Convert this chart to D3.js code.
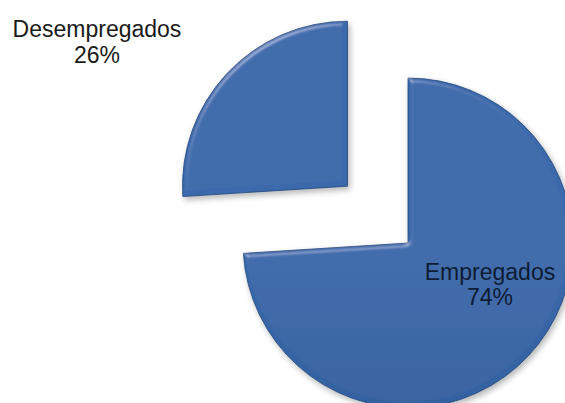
<!DOCTYPE html>
<html>
<head>
<meta charset="utf-8">
<script src="https://cdn.jsdelivr.net/npm/d3@7"></script>
<style>
  html, body { margin: 0; padding: 0; background: #fff; }
  svg { display: block; }
  text { font-family: "Liberation Sans", Arial, sans-serif; }
</style>
</head>
<body>
<svg id="chart" width="565" height="403"></svg>
<script>
// Employment split
const categories = ["Empregados", "Desempregados"];
const values = [74, 26];
const percentLabels = ["74%", "26%"];

const width = 565, height = 403;
const cx = 408, cy = 243, radius = 165;
const explodeBy = [0, 83];

const svg = d3.select("#chart");
const defs = svg.append("defs");

// vertical shading of the slice faces
const grad = defs.append("linearGradient")
  .attr("id", "faceGrad")
  .attr("gradientUnits", "userSpaceOnUse")
  .attr("x1", 0).attr("y1", 15).attr("x2", 0).attr("y2", 410);
grad.append("stop").attr("offset", 0).attr("stop-color", "#3a69ab");
grad.append("stop").attr("offset", 1).attr("stop-color", "#27528d");

// soft bevel + drop shadow
const f = defs.append("filter").attr("id", "bevel")
  .attr("x", "-10%").attr("y", "-10%").attr("width", "120%").attr("height", "120%");
f.append("feGaussianBlur").attr("in", "SourceAlpha").attr("stdDeviation", 2.5).attr("result", "blur");
const spec = f.append("feSpecularLighting").attr("in", "blur")
  .attr("surfaceScale", 4).attr("specularConstant", 0.7).attr("specularExponent", 22)
  .attr("lighting-color", "#ffffff").attr("result", "spec");
spec.append("feDistantLight").attr("azimuth", 240).attr("elevation", 30);
f.append("feComposite").attr("in", "spec").attr("in2", "SourceAlpha").attr("operator", "in").attr("result", "specIn");
f.append("feComposite").attr("in", "SourceGraphic").attr("in2", "specIn")
  .attr("operator", "arithmetic").attr("k1", 0).attr("k2", 1).attr("k3", 0.35).attr("k4", 0).attr("result", "lit");
f.append("feGaussianBlur").attr("in", "SourceAlpha").attr("stdDeviation", 3).attr("result", "sblur");
f.append("feOffset").attr("in", "sblur").attr("dx", 2).attr("dy", 3).attr("result", "soff");
f.append("feComponentTransfer").attr("in", "soff").attr("result", "shadow")
  .append("feFuncA").attr("type", "linear").attr("slope", 0.3);
const merge = f.append("feMerge");
merge.append("feMergeNode").attr("in", "shadow");
merge.append("feMergeNode").attr("in", "lit");

const pie = d3.pie().sort(null).value(d => d)
  .startAngle(0).endAngle(2 * Math.PI);
const arcs = pie(values);
const arc = d3.arc().innerRadius(0).outerRadius(radius);

const g = svg.append("g").attr("transform", `translate(${cx},${cy})`);

g.selectAll("path.slice")
  .data(arcs)
  .join("path")
  .attr("class", "slice")
  .attr("transform", (d, i) => {
    const a = (d.startAngle + d.endAngle) / 2;
    const r = explodeBy[i];
    return `translate(${Math.sin(a) * r},${-Math.cos(a) * r})`;
  })
  .attr("d", arc)
  .attr("fill", "url(#faceGrad)")
  .attr("stroke", "#21467b")
  .attr("stroke-width", 0.8)
  .attr("filter", "url(#bevel)");

// Labels
const labelPos = [
  { x: 490, y1: 280, y2: 305, color: "#0f1c33" },
  { x: 97, y1: 37, y2: 63, color: "#1a1a1a" }
];
categories.forEach((c, i) => {
  const p = labelPos[i];
  const t = svg.append("text")
    .attr("text-anchor", "middle")
    .attr("fill", p.color)
    .attr("font-size", 23);
  t.append("tspan").attr("x", p.x).attr("y", p.y1).text(c);
  t.append("tspan").attr("x", p.x).attr("y", p.y2).text(percentLabels[i]);
});
</script>
</body>
</html>
